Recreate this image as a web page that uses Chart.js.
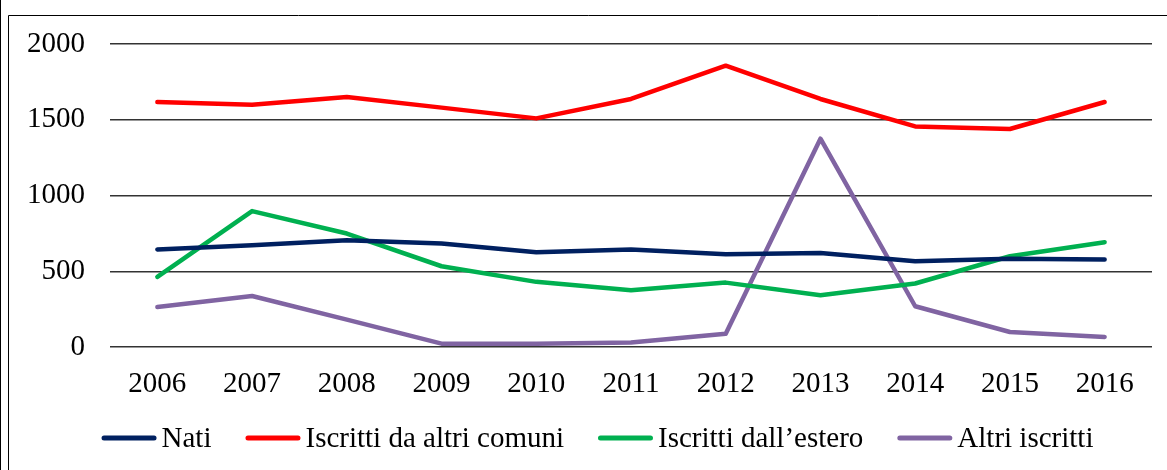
<!DOCTYPE html>
<html>
<head>
<meta charset="utf-8">
<script src="https://cdn.jsdelivr.net/npm/chart.js@4.4.1/dist/chart.umd.min.js"></script>
<style>
  body { margin: 0; background: #fff; }
  #wrap { width: 1167px; height: 470px; }
</style>
</head>
<body>
<div id="wrap"><canvas id="myChart" width="1167" height="470"></canvas></div>
<script>
// data
const years = ['2006', '2007', '2008', '2009', '2010', '2011', '2012', '2013', '2014', '2015', '2016']
const nati = [644, 672, 705, 683, 626, 644, 613, 621, 566, 582, 578]
const iscrittiComuni = [1617, 1599, 1650, 1580, 1509, 1637, 1857, 1637, 1456, 1439, 1617]
const iscrittiEstero = [463, 897, 749, 533, 430, 375, 425, 342, 419, 599, 692]
const altriIscritti = [264, 337, 181, 22, 22, 29, 88, 1375, 269, 99, 66]
const yTicks = [0, 500, 1000, 1500, 2000]

const seriesNames = ['Nati', 'Iscritti da altri comuni', 'Iscritti dall\u2019estero', 'Altri iscritti']
const seriesColors = ['#002060', '#FF0000', '#00B050', '#8064A2']

const FONT = '"Liberation Serif", "Times New Roman", serif'

// frame lines around the picture
const framePlugin = {
  id: 'frame',
  beforeDraw(chart) {
    const ctx = chart.ctx
    ctx.save()
    ctx.strokeStyle = '#000'
    ctx.lineWidth = 1
    ctx.beginPath()
    ctx.moveTo(0.5, 0)
    ctx.lineTo(0.5, 470)
    ctx.moveTo(8.5, 480)
    ctx.lineTo(8.5, 15.5)
    ctx.lineTo(1180, 15.5)
    ctx.stroke()
    ctx.restore()
  }
}

// legend drawn like the office one: short thick line, small gap, text
const legendPlugin = {
  id: 'lineLegend',
  afterDraw(chart) {
    const ctx = chart.ctx
    ctx.save()
    ctx.font = '29px ' + FONT
    ctx.textBaseline = 'middle'
    const lineW = 55, gap = 5, spacing = 34
    const widths = seriesNames.map(n => ctx.measureText(n).width)
    let total = 0
    widths.forEach((w, i) => { total += lineW + gap + w + (i < widths.length - 1 ? spacing : 0) })
    let x = 597.5 - total / 2
    const y = 438
    chart.data.datasets.forEach((ds, i) => {
      ctx.strokeStyle = ds.borderColor
      ctx.lineWidth = 5
      ctx.lineCap = 'round'
      ctx.beginPath()
      ctx.moveTo(x + 2.5, y)
      ctx.lineTo(x + lineW - 2.5, y)
      ctx.stroke()
      ctx.fillStyle = '#000'
      ctx.fillText(ds.label, x + lineW + gap, y + 1)
      x += lineW + gap + widths[i] + spacing
    })
    ctx.restore()
  }
}

const allSeries = [nati, iscrittiComuni, iscrittiEstero, altriIscritti]

const ctx = document.getElementById('myChart').getContext('2d')
const chart = new Chart(ctx, {
  type: 'line',
  data: {
    labels: years,
    datasets: allSeries.map((vals, i) => ({
      label: seriesNames[i],
      data: vals,
      borderColor: seriesColors[i],
      backgroundColor: seriesColors[i],
      borderWidth: 4.5,
      borderCapStyle: 'round',
      borderJoinStyle: 'round',
      pointRadius: 0,
      tension: 0,
      fill: false
    }))
  },
  options: {
    responsive: false,
    animation: false,
    layout: { padding: { top: 44, right: 15, left: 0, bottom: 0 } },
    plugins: {
      legend: { display: false },
      tooltip: { enabled: false }
    },
    scales: {
      x: {
        offset: true,
        grid: { display: false, drawTicks: false },
        border: { display: false },
        ticks: { color: '#000', font: { family: FONT, size: 29 }, padding: 20, maxRotation: 0 },
        afterFit: s => { s.height = 123 }
      },
      y: {
        min: 0,
        max: 2000,
        afterBuildTicks: s => { s.ticks = yTicks.map(v => ({ value: v })) },
        grid: { color: '#333', lineWidth: 1.5, drawTicks: false },
        border: { display: false },
        ticks: {
          color: '#000',
          font: { family: FONT, size: 29 },
          padding: 25,
          callback: v => String(v)
        },
        afterFit: s => { s.width = 110 }
      }
    }
  },
  plugins: [framePlugin, legendPlugin]
})
</script>
</body>
</html>
